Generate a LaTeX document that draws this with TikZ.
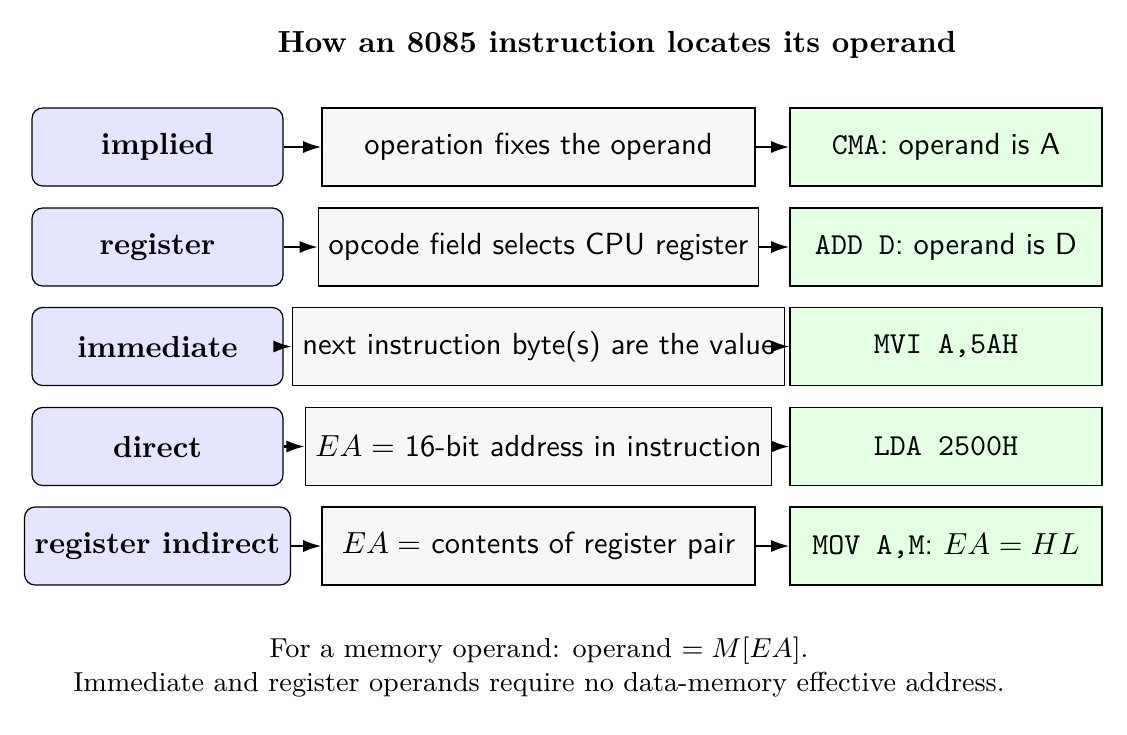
\documentclass[tikz,border=0pt]{standalone}
\usetikzlibrary{arrows.meta}
\begin{document}
\begin{tikzpicture}[x=0.3279pt,y=-0.3279pt,
  modebox/.style={draw, rounded corners=3.5pt, fill=blue!10, font=\bfseries,
    minimum width={251*0.3279pt}, minimum height={78*0.3279pt}},
  rulebox/.style={draw, fill=black!3, font=\sffamily,
    minimum width={433*0.3279pt}, minimum height={78*0.3279pt}},
  exbox/.style={draw, fill=green!10, font=\sffamily,
    minimum width={312*0.3279pt}, minimum height={78*0.3279pt}},
  conn/.style={line width=0.7pt, -{Latex[length=6pt,width=4pt]}}]
\useasboundingbox (0,0) rectangle (1127,734);
\node[font=\bfseries] (title) at (617,45) {How an 8085 instruction locates its operand};
\node[modebox] (m1) at (157.5,147) {implied};
\node[modebox] (m2) at (157.5,247) {register};
\node[modebox] (m3) at (157.5,346.5) {immediate};
\node[modebox] (m4) at (157.5,446.5) {direct};
\node[modebox] (m5) at (157.5,546) {register indirect};
\node[rulebox] (r1) at (538.5,147) {operation fixes the operand};
\node[rulebox] (r2) at (538.5,247) {opcode field selects CPU register};
\node[rulebox] (r3) at (538.5,346.5) {next instruction byte(s) are the value};
\node[rulebox] (r4) at (538.5,446.5) {$EA =$ 16-bit address in instruction};
\node[rulebox] (r5) at (538.5,546) {$EA =$ contents of register pair};
\node[exbox] (e1) at (946,147) {\texttt{CMA}: operand is A};
\node[exbox] (e2) at (946,247) {\texttt{ADD D}: operand is D};
\node[exbox] (e3) at (946,346.5) {\texttt{MVI A,5AH}};
\node[exbox] (e4) at (946,446.5) {\texttt{LDA 2500H}};
\node[exbox] (e5) at (946,546) {\texttt{MOV A,M}: $EA = HL$};
\foreach \i in {1,...,5}{
  \draw[conn] (m\i.east) -- (r\i.west);
  \draw[conn] (r\i.east) -- (e\i.west);
}
\node[align=center, font=\small] (cap) at (539,667) {For a memory operand: operand $= M[EA]$.\\
Immediate and register operands require no data-memory effective address.};
\end{tikzpicture}
\end{document}
